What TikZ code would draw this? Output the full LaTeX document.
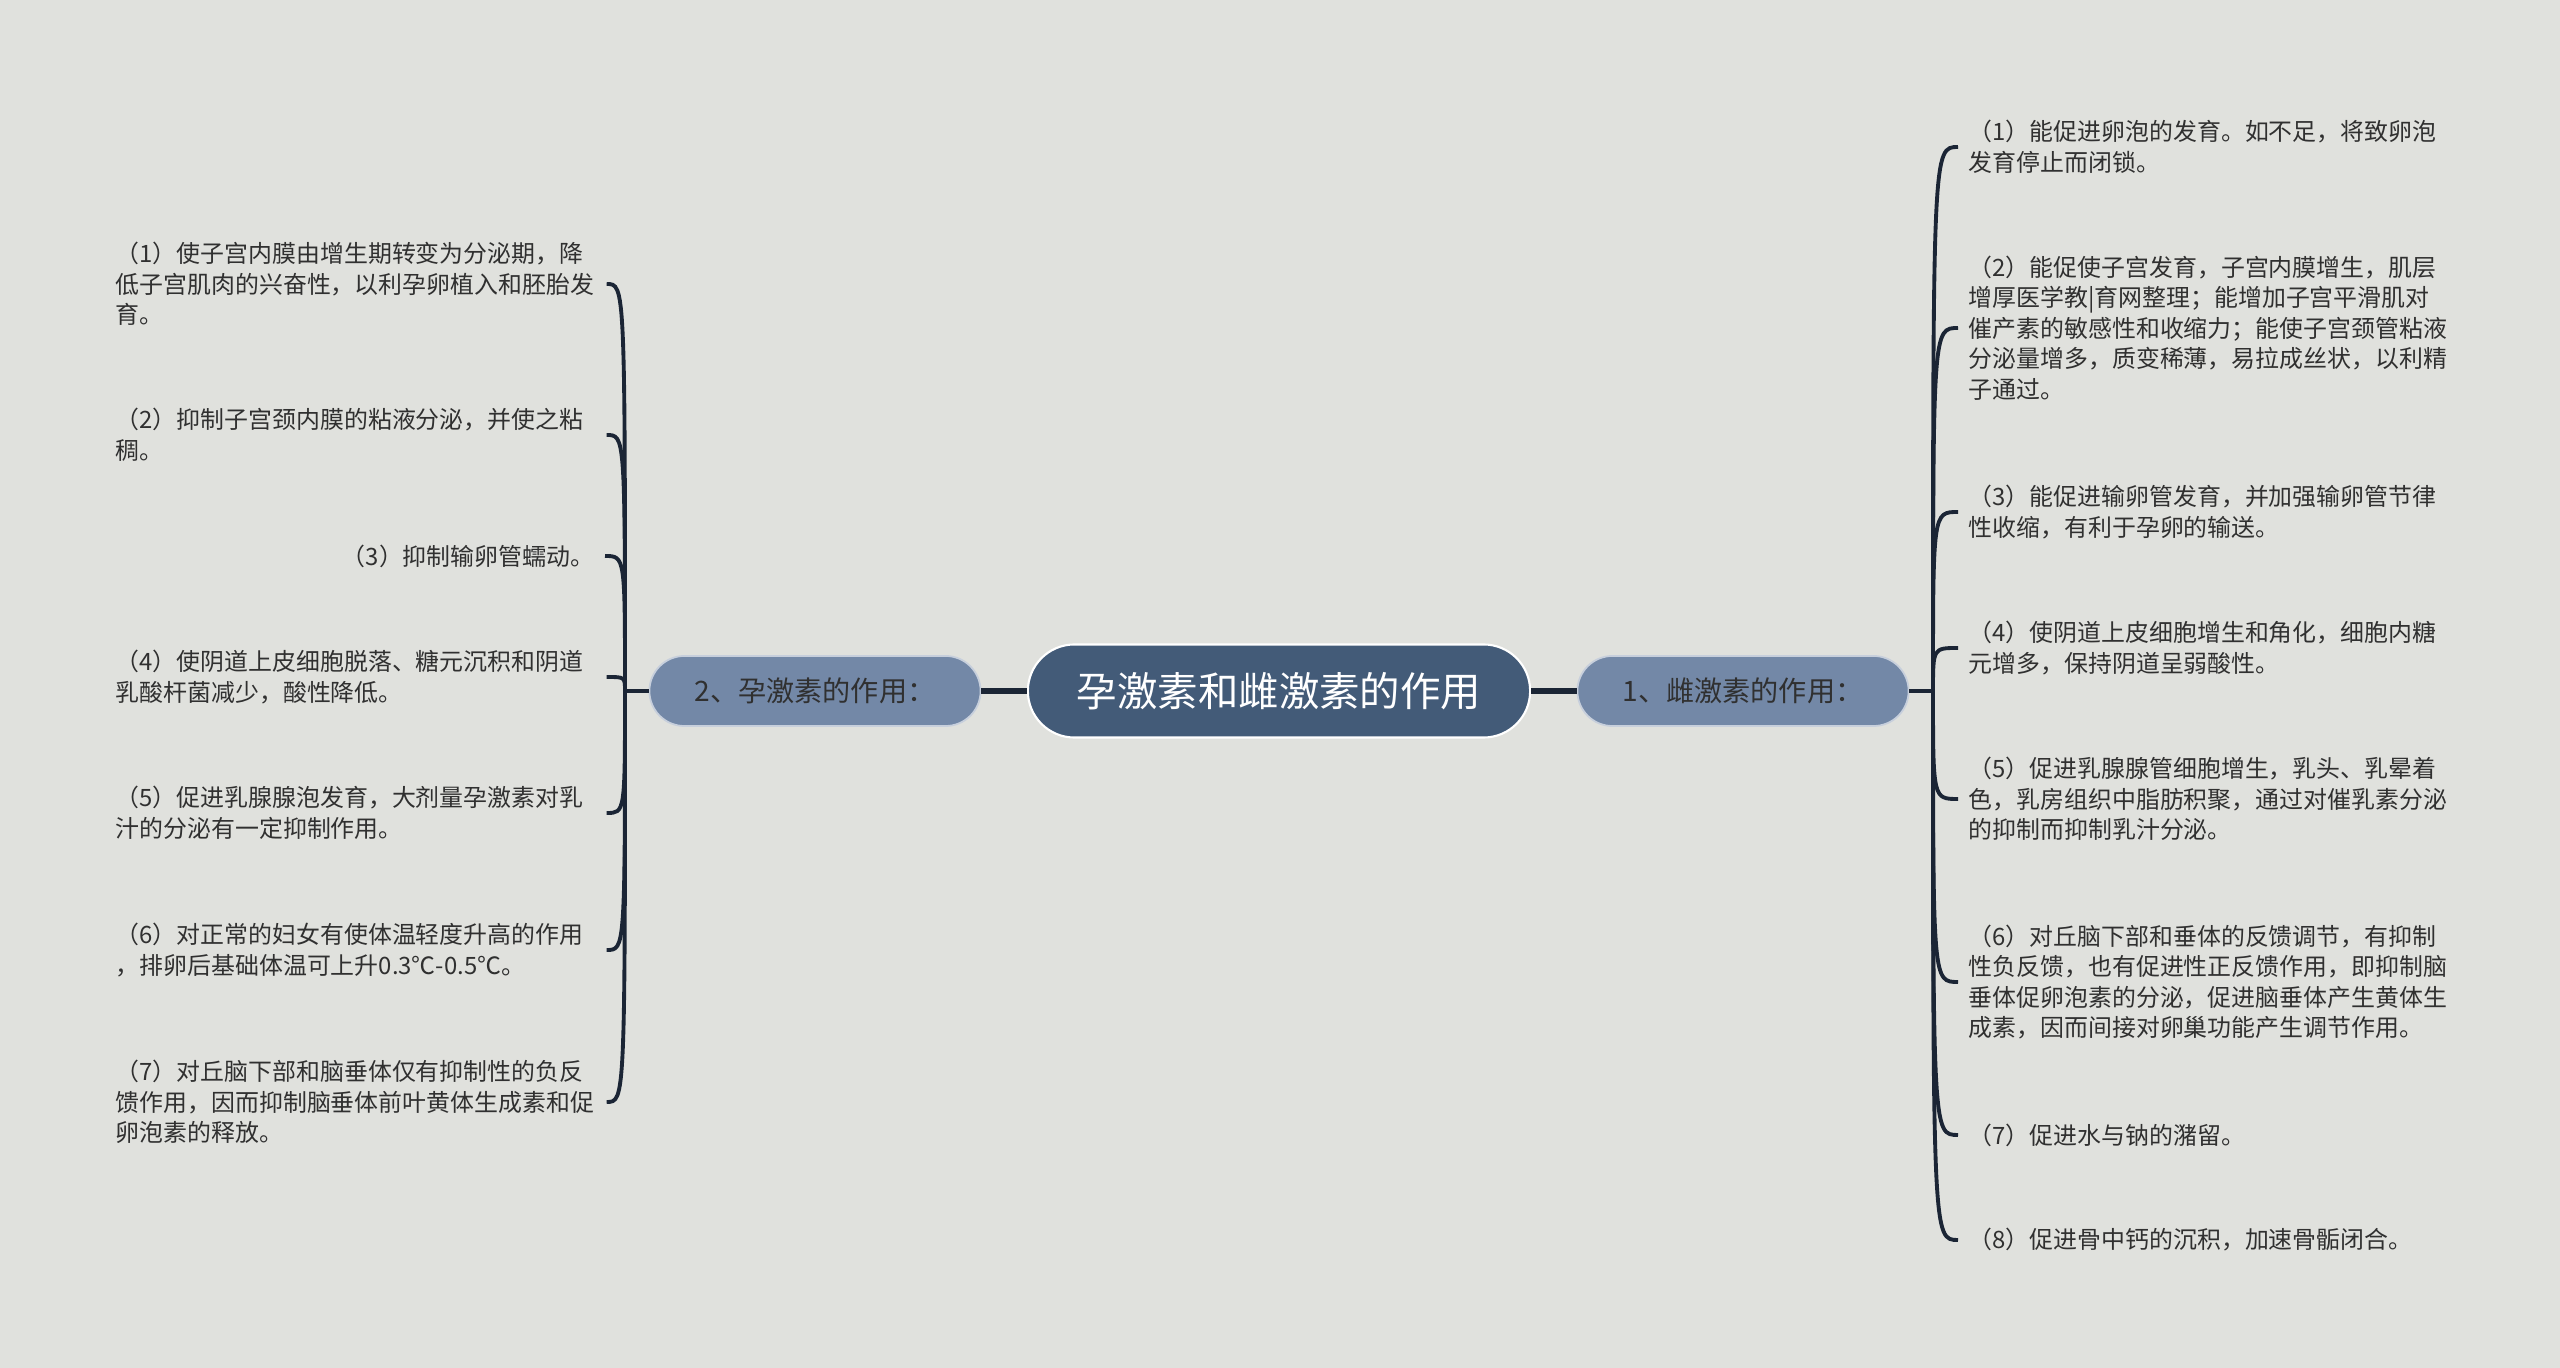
\documentclass[tikz,border=0pt]{standalone}
\usepackage{fontspec}
\setmainfont{Noto Sans CJK SC}
\usepackage{tikz}
\definecolor{bgcol}{HTML}{E0E1DD}
\definecolor{hubcol}{HTML}{435B78}
\definecolor{subcol}{HTML}{7388A7}
\definecolor{linecol}{HTML}{1B2535}
\definecolor{txtcol}{HTML}{303030}
\tikzset{
  hub/.style={fill=hubcol, draw=white, line width=0.6pt, text=white, inner sep=0pt,
    font=\fontsize{11.5}{14}\selectfont, minimum width=5.02cm, minimum height=0.93cm, rounded corners=0.465cm},
  sub/.style={fill=subcol, draw=white!60!subcol, line width=0.5pt, text=txtcol, inner sep=0pt,
    font=\fontsize{8}{10}\selectfont, minimum width=3.31cm, minimum height=0.70cm, rounded corners=0.35cm},
  leaf/.style={text=txtcol, align=left, inner xsep=0.1cm, inner ysep=0pt,
    font=\fontsize{6.8}{8.7}\selectfont},
  wide/.style={leaf, text width=4.8cm},
  link/.style={draw=linecol, line width=1.1pt},
  hublink/.style={draw=linecol, line width=1.5pt}
}
\begin{document}
\begin{tikzpicture}[x=0.01cm,y=-0.01cm]
\useasboundingbox[fill=bgcol] (0,0) rectangle (2560,1368);
% centre and the two branches
\node (C0) at (1279,691) [hub] {孕激素和雌激素的作用};
\node (B2) at (815,691)  [sub] {2、孕激素的作用：};
\node (B1) at (1743,691) [sub] {1、雌激素的作用：};
\coordinate (J2) at (625,691);
\coordinate (J1) at (1933,691);
% left leaves
\node (L1) at (105,284)  [wide,anchor=west] {（1）使子宫内膜由增生期转变为分泌期，降\\低子宫肌肉的兴奋性，以利孕卵植入和胚胎发\\育。};
\node (L2) at (105,435)  [wide,anchor=west] {（2）抑制子宫颈内膜的粘液分泌，并使之粘\\稠。};
\node (L3) at (605,556)  [leaf,anchor=east] {（3）抑制输卵管蠕动。};
\node (L4) at (105,677)  [wide,anchor=west] {（4）使阴道上皮细胞脱落、糖元沉积和阴道\\乳酸杆菌减少，酸性降低。};
\node (L5) at (105,813)  [wide,anchor=west] {（5）促进乳腺腺泡发育，大剂量孕激素对乳\\汁的分泌有一定抑制作用。};
\node (L6) at (105,950)  [wide,anchor=west] {（6）对正常的妇女有使体温轻度升高的作用\\，排卵后基础体温可上升0.3℃-0.5℃。};
\node (L7) at (105,1102) [wide,anchor=west] {（7）对丘脑下部和脑垂体仅有抑制性的负反\\馈作用，因而抑制脑垂体前叶黄体生成素和促\\卵泡素的释放。};
% right leaves
\node (R1) at (1958,147)  [wide,anchor=west] {（1）能促进卵泡的发育。如不足，将致卵泡\\发育停止而闭锁。};
\node (R2) at (1958,328)  [wide,anchor=west] {（2）能促使子宫发育，子宫内膜增生，肌层\\增厚医学教|育网整理；能增加子宫平滑肌对\\催产素的敏感性和收缩力；能使子宫颈管粘液\\分泌量增多，质变稀薄，易拉成丝状，以利精\\子通过。};
\node (R3) at (1958,512)  [wide,anchor=west] {（3）能促进输卵管发育，并加强输卵管节律\\性收缩，有利于孕卵的输送。};
\node (R4) at (1958,648)  [wide,anchor=west] {（4）使阴道上皮细胞增生和角化，细胞内糖\\元增多，保持阴道呈弱酸性。};
\node (R5) at (1958,799)  [wide,anchor=west] {（5）促进乳腺腺管细胞增生，乳头、乳晕着\\色，乳房组织中脂肪积聚，通过对催乳素分泌\\的抑制而抑制乳汁分泌。};
\node (R6) at (1958,982)  [wide,anchor=west] {（6）对丘脑下部和垂体的反馈调节，有抑制\\性负反馈，也有促进性正反馈作用，即抑制脑\\垂体促卵泡素的分泌，促进脑垂体产生黄体生\\成素，因而间接对卵巢功能产生调节作用。};
\node (R7) at (1958,1135) [wide,anchor=west] {（7）促进水与钠的潴留。};
\node (R8) at (1958,1240) [wide,anchor=west] {（8）促进骨中钙的沉积，加速骨骺闭合。};
% links
\draw[hublink] (C0) -- (B2);
\draw[hublink] (C0) -- (B1);
\draw[link] (B2) -- (J2);
\draw[link] (B1) -- (J1);
\foreach \n in {L1,L2,L3,L4,L5,L6,L7}
  \draw[link] (J2) .. controls (J2 |- \n.east) and (J2 |- \n.east) .. (\n.east);
\foreach \n in {R1,R2,R3,R4,R5,R6,R7,R8}
  \draw[link] (J1) .. controls (J1 |- \n.west) and (J1 |- \n.west) .. (\n.west);
\end{tikzpicture}
\end{document}
